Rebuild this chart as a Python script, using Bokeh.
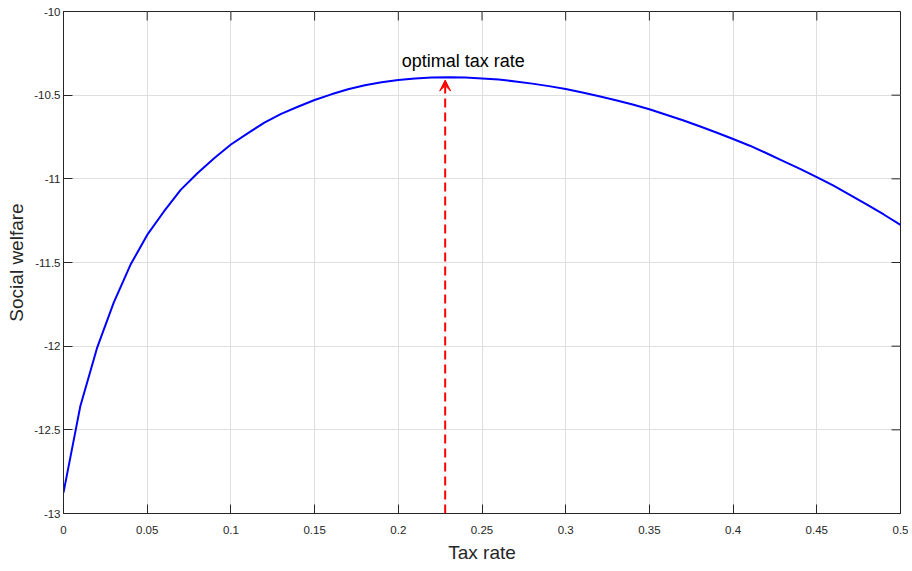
import math
from bokeh.plotting import figure
from bokeh.models import FixedTicker, Arrow, VeeHead, Label, ColumnDataSource
from bokeh.embed import file_html
from bokeh.resources import INLINE

# ---- data ----
tax_rate = [0.00, 0.01, 0.02, 0.03, 0.04, 0.05, 0.06, 0.07, 0.08, 0.09,
            0.10, 0.11, 0.12, 0.13, 0.14, 0.15, 0.16, 0.17, 0.18, 0.19,
            0.20, 0.21, 0.22, 0.23, 0.24, 0.25, 0.26, 0.27, 0.28, 0.29,
            0.30, 0.31, 0.32, 0.33, 0.34, 0.35, 0.36, 0.37, 0.38, 0.39,
            0.40, 0.41, 0.42, 0.43, 0.44, 0.45, 0.46, 0.47, 0.48, 0.49, 0.50]
social_welfare = [-12.875, -12.361, -12.012, -11.740, -11.514, -11.335, -11.195, -11.066, -10.967, -10.877,
                  -10.795, -10.728, -10.664, -10.612, -10.569, -10.529, -10.495, -10.465, -10.441, -10.423,
                  -10.409, -10.400, -10.395, -10.393, -10.395, -10.400, -10.407, -10.418, -10.431, -10.446,
                  -10.463, -10.484, -10.506, -10.530, -10.556, -10.584, -10.617, -10.650, -10.686, -10.723,
                  -10.762, -10.802, -10.847, -10.894, -10.941, -10.990, -11.041, -11.097, -11.154, -11.213, -11.275]

optimal_rate = 0.228
optimal_arrow_top = -10.41
annotation_text = "optimal tax rate"
annotation_x = 0.202
annotation_y = -10.294

x_ticks = [0, 0.05, 0.1, 0.15, 0.2, 0.25, 0.3, 0.35, 0.4, 0.45, 0.5]
x_tick_labels = ["0", "0.05", "0.1", "0.15", "0.2", "0.25", "0.3", "0.35", "0.4", "0.45", "0.5"]
y_ticks = [-13, -12.5, -12, -11.5, -11, -10.5, -10]
y_tick_labels = ["-13", "-12.5", "-12", "-11.5", "-11", "-10.5", "-10"]

FONT = "Liberation Sans"
DARK = "#262626"
TICK_LEN = 9

p = figure(frame_width=837, frame_height=502,
           min_border_left=63, min_border_top=11, min_border_right=8, min_border_bottom=52,
           x_range=(x_ticks[0], x_ticks[-1]), y_range=(y_ticks[0], y_ticks[-1]),
           output_backend="svg", toolbar_location=None,
           x_axis_label="Tax rate", y_axis_label="Social welfare")

p.background_fill_color = "white"
p.outline_line_color = DARK
p.outline_line_width = 1

for g in (p.xgrid, p.ygrid):
    g.grid_line_color = "#dfdfdf"
    g.grid_line_width = 1
p.xgrid.ticker = FixedTicker(ticks=x_ticks)
p.ygrid.ticker = FixedTicker(ticks=y_ticks)

xa = p.xaxis[0]
xa.ticker = FixedTicker(ticks=x_ticks)
xa.major_label_overrides = dict(zip(x_ticks, x_tick_labels))
ya = p.yaxis[0]
ya.ticker = FixedTicker(ticks=y_ticks)
ya.major_label_overrides = dict(zip(y_ticks, y_tick_labels))

for ax in (xa, ya):
    ax.axis_line_color = DARK
    ax.major_tick_line_color = DARK
    ax.major_tick_in = TICK_LEN
    ax.major_tick_out = 0
    ax.minor_tick_line_color = None
    ax.major_label_text_font = FONT
    ax.major_label_text_font_size = "11.5px"
    ax.major_label_text_color = DARK
    ax.axis_label_text_font = FONT
    ax.axis_label_text_font_style = "normal"
    ax.axis_label_text_color = DARK

xa.major_label_standoff = 12
xa.axis_label_standoff = 5
xa.axis_label_text_font_size = "19px"
ya.major_label_standoff = 3
ya.axis_label_standoff = 4
ya.axis_label_text_font_size = "19px"

# box ticks on the top and right edges (inward, like a boxed axes)
p.ray(x=x_ticks, y=[y_ticks[-1]] * len(x_ticks), length=TICK_LEN, length_units="screen",
      angle=-math.pi / 2, line_color=DARK, line_width=1)
p.ray(x=[x_ticks[-1]] * len(y_ticks), y=y_ticks, length=TICK_LEN, length_units="screen",
      angle=math.pi, line_color=DARK, line_width=1)

src = ColumnDataSource(dict(x=tax_rate, y=social_welfare))
p.line("x", "y", source=src, line_color="#0000ff", line_width=2)

p.add_layout(Arrow(end=VeeHead(size=11, fill_color="#ff0000", line_color="#ff0000", line_width=1),
                   x_start=optimal_rate, y_start=y_ticks[0], x_end=optimal_rate, y_end=optimal_arrow_top,
                   line_color="#ff0000", line_width=2, line_dash="9 5"))

p.add_layout(Label(x=annotation_x, y=annotation_y, text=annotation_text,
                   text_font=FONT, text_font_size="18px", text_color="black",
                   text_align="left", text_baseline="alphabetic"))

open("out.html", "w").write(file_html(p, INLINE))
